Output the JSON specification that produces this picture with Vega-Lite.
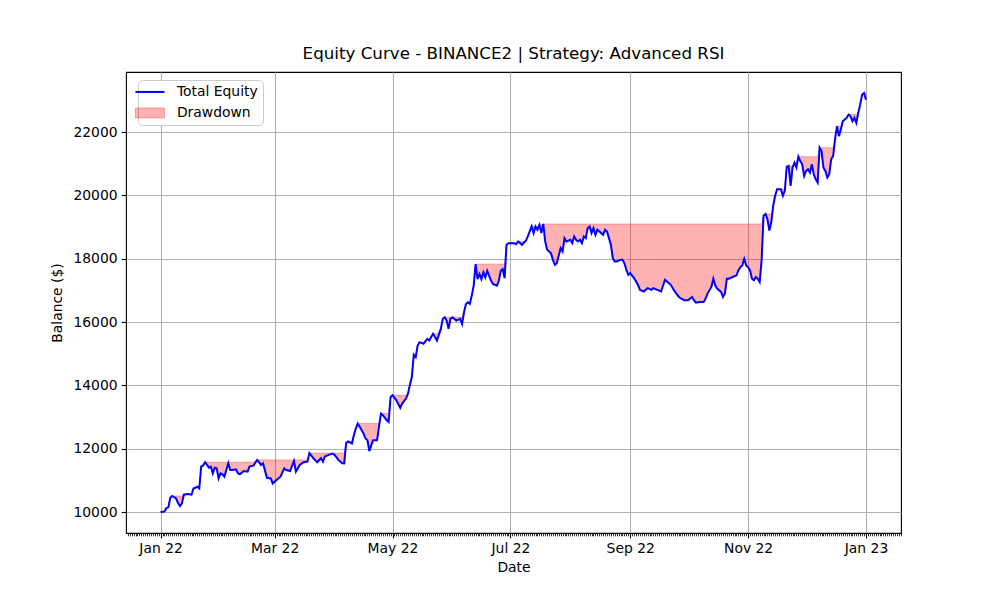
{
  "$schema": "https://vega.github.io/schema/vega-lite/v6.json",
  "width": 775,
  "height": 461,
  "autosize": {"type": "none"},
  "padding": {"left": 126, "top": 72, "right": 99, "bottom": 67},
  "background": "white",
  "title": {"text": "Equity Curve - BINANCE2 | Strategy: Advanced RSI", "font": "DejaVu Sans", "fontSize": 16.7, "fontWeight": "normal", "color": "#000000", "anchor": "middle", "offset": 9},
  "config": {
    "view": {"stroke": "#000000", "strokeWidth": 1.1},
    "axis": {"labelFont": "DejaVu Sans", "labelFontSize": 13.9, "labelColor": "#000000", "titleFont": "DejaVu Sans", "titleFontSize": 13.9, "titleFontWeight": "normal", "titleColor": "#000000", "domain": false, "tickColor": "#000000", "tickWidth": 1.1, "tickSize": 4.9, "gridColor": "#b0b0b0", "gridWidth": 1.1, "gridOpacity": 1, "labelPadding": 4},
    "legend": {"labelFont": "DejaVu Sans", "labelFontSize": 13.9, "labelColor": "#000000"}
  },
  "data": {"values": [
    {"d":"2022-01-01","e":10000,"p":10000},{"d":"2022-01-03","e":10020,"p":10020},{"d":"2022-01-04","e":10130,"p":10130},{"d":"2022-01-05","e":10150,"p":10150},{"d":"2022-01-06","e":10450,"p":10450},{"d":"2022-01-07","e":10510,"p":10510},{"d":"2022-01-09","e":10430,"p":10510},{"d":"2022-01-10","e":10290,"p":10510},{"d":"2022-01-11","e":10190,"p":10510},{"d":"2022-01-12","e":10270,"p":10510},{"d":"2022-01-13","e":10550,"p":10550},{"d":"2022-01-15","e":10575,"p":10575},{"d":"2022-01-17","e":10550,"p":10575},{"d":"2022-01-18","e":10745,"p":10745},{"d":"2022-01-20","e":10800,"p":10800},{"d":"2022-01-21","e":10745,"p":10800},{"d":"2022-01-22","e":11440,"p":11440},{"d":"2022-01-23","e":11470,"p":11470},{"d":"2022-01-24","e":11575,"p":11575},{"d":"2022-01-25","e":11490,"p":11575},{"d":"2022-01-26","e":11404,"p":11575},{"d":"2022-01-27","e":11436,"p":11575},{"d":"2022-01-28","e":11224,"p":11575},{"d":"2022-01-29","e":11404,"p":11575},{"d":"2022-01-30","e":11383,"p":11575},{"d":"2022-01-31","e":11064,"p":11575},
    {"d":"2022-02-01","e":11224,"p":11575},{"d":"2022-02-02","e":11192,"p":11575},{"d":"2022-02-03","e":11117,"p":11575},{"d":"2022-02-05","e":11543,"p":11575},{"d":"2022-02-06","e":11330,"p":11575},{"d":"2022-02-07","e":11330,"p":11575},{"d":"2022-02-09","e":11351,"p":11575},{"d":"2022-02-10","e":11224,"p":11575},{"d":"2022-02-11","e":11192,"p":11575},{"d":"2022-02-13","e":11298,"p":11575},{"d":"2022-02-15","e":11277,"p":11575},{"d":"2022-02-16","e":11436,"p":11575},{"d":"2022-02-18","e":11468,"p":11575},{"d":"2022-02-20","e":11649,"p":11649},{"d":"2022-02-22","e":11490,"p":11649},{"d":"2022-02-23","e":11543,"p":11649},{"d":"2022-02-25","e":11085,"p":11649},{"d":"2022-02-27","e":11064,"p":11649},{"d":"2022-02-28","e":10904,"p":11649},
    {"d":"2022-03-02","e":11011,"p":11649},{"d":"2022-03-04","e":11117,"p":11649},{"d":"2022-03-06","e":11383,"p":11649},{"d":"2022-03-07","e":11330,"p":11649},{"d":"2022-03-09","e":11298,"p":11649},{"d":"2022-03-11","e":11617,"p":11649},{"d":"2022-03-12","e":11277,"p":11649},{"d":"2022-03-14","e":11490,"p":11649},{"d":"2022-03-16","e":11575,"p":11649},{"d":"2022-03-18","e":11596,"p":11649},{"d":"2022-03-19","e":11862,"p":11862},{"d":"2022-03-21","e":11702,"p":11862},{"d":"2022-03-23","e":11575,"p":11862},{"d":"2022-03-25","e":11702,"p":11862},{"d":"2022-03-26","e":11596,"p":11862},{"d":"2022-03-27","e":11756,"p":11862},{"d":"2022-03-29","e":11809,"p":11862},{"d":"2022-03-31","e":11850,"p":11862},
    {"d":"2022-04-01","e":11809,"p":11862},{"d":"2022-04-03","e":11649,"p":11862},{"d":"2022-04-05","e":11543,"p":11862},{"d":"2022-04-06","e":11540,"p":11862},{"d":"2022-04-07","e":12181,"p":12181},{"d":"2022-04-08","e":12234,"p":12234},{"d":"2022-04-10","e":12168,"p":12234},{"d":"2022-04-11","e":12430,"p":12430},{"d":"2022-04-12","e":12640,"p":12640},{"d":"2022-04-13","e":12797,"p":12797},{"d":"2022-04-14","e":12692,"p":12797},{"d":"2022-04-16","e":12483,"p":12797},{"d":"2022-04-17","e":12325,"p":12797},{"d":"2022-04-18","e":12273,"p":12797},{"d":"2022-04-19","e":11927,"p":12797},{"d":"2022-04-20","e":12115,"p":12797},{"d":"2022-04-21","e":12273,"p":12797},{"d":"2022-04-23","e":12273,"p":12797},{"d":"2022-04-24","e":12692,"p":12797},{"d":"2022-04-25","e":13112,"p":13112},{"d":"2022-04-26","e":13060,"p":13112},{"d":"2022-04-28","e":12902,"p":13112},{"d":"2022-04-29","e":12850,"p":13112},{"d":"2022-04-30","e":13636,"p":13636},
    {"d":"2022-05-01","e":13689,"p":13689},{"d":"2022-05-03","e":13532,"p":13689},{"d":"2022-05-05","e":13290,"p":13689},{"d":"2022-05-06","e":13427,"p":13689},{"d":"2022-05-08","e":13585,"p":13689},{"d":"2022-05-09","e":13741,"p":13741},{"d":"2022-05-10","e":14025,"p":14025},{"d":"2022-05-11","e":14266,"p":14266},{"d":"2022-05-12","e":14969,"p":14969},{"d":"2022-05-13","e":14895,"p":14969},{"d":"2022-05-14","e":15262,"p":15262},{"d":"2022-05-15","e":15367,"p":15367},{"d":"2022-05-17","e":15315,"p":15367},{"d":"2022-05-19","e":15472,"p":15472},{"d":"2022-05-20","e":15420,"p":15472},{"d":"2022-05-22","e":15630,"p":15630},{"d":"2022-05-24","e":15420,"p":15630},{"d":"2022-05-26","e":15787,"p":15787},{"d":"2022-05-27","e":16102,"p":16102},{"d":"2022-05-28","e":16154,"p":16154},{"d":"2022-05-29","e":16050,"p":16154},{"d":"2022-05-30","e":15787,"p":16154},{"d":"2022-05-31","e":16102,"p":16154},
    {"d":"2022-06-01","e":16154,"p":16154},{"d":"2022-06-03","e":16050,"p":16154},{"d":"2022-06-05","e":16102,"p":16154},{"d":"2022-06-06","e":15944,"p":16154},{"d":"2022-06-07","e":16311,"p":16311},{"d":"2022-06-08","e":16574,"p":16574},{"d":"2022-06-09","e":16626,"p":16626},{"d":"2022-06-10","e":16574,"p":16626},{"d":"2022-06-11","e":16836,"p":16836},{"d":"2022-06-12","e":17151,"p":17151},{"d":"2022-06-13","e":17832,"p":17832},{"d":"2022-06-14","e":17360,"p":17832},{"d":"2022-06-15","e":17517,"p":17832},{"d":"2022-06-16","e":17360,"p":17832},{"d":"2022-06-17","e":17570,"p":17832},{"d":"2022-06-18","e":17412,"p":17832},{"d":"2022-06-19","e":17622,"p":17832},{"d":"2022-06-21","e":17307,"p":17832},{"d":"2022-06-22","e":17203,"p":17832},{"d":"2022-06-24","e":17151,"p":17832},{"d":"2022-06-25","e":17307,"p":17832},{"d":"2022-06-26","e":17622,"p":17832},{"d":"2022-06-27","e":17675,"p":17832},{"d":"2022-06-28","e":17389,"p":17832},{"d":"2022-06-29","e":18442,"p":18442},{"d":"2022-06-30","e":18495,"p":18495},
    {"d":"2022-07-03","e":18495,"p":18495},{"d":"2022-07-04","e":18463,"p":18495},{"d":"2022-07-05","e":18548,"p":18548},{"d":"2022-07-07","e":18442,"p":18548},{"d":"2022-07-09","e":18569,"p":18569},{"d":"2022-07-10","e":18706,"p":18706},{"d":"2022-07-12","e":19021,"p":19021},{"d":"2022-07-13","e":18811,"p":19021},{"d":"2022-07-14","e":19021,"p":19021},{"d":"2022-07-15","e":18916,"p":19021},{"d":"2022-07-16","e":19074,"p":19074},{"d":"2022-07-17","e":18811,"p":19074},{"d":"2022-07-18","e":19100,"p":19100},{"d":"2022-07-19","e":18548,"p":19100},{"d":"2022-07-20","e":18284,"p":19100},{"d":"2022-07-22","e":18179,"p":19100},{"d":"2022-07-23","e":17968,"p":19100},{"d":"2022-07-24","e":17810,"p":19100},{"d":"2022-07-25","e":17863,"p":19100},{"d":"2022-07-27","e":18337,"p":19100},{"d":"2022-07-28","e":18232,"p":19100},{"d":"2022-07-29","e":18653,"p":19100},{"d":"2022-07-30","e":18548,"p":19100},
    {"d":"2022-08-01","e":18600,"p":19100},{"d":"2022-08-02","e":18495,"p":19100},{"d":"2022-08-03","e":18706,"p":19100},{"d":"2022-08-04","e":18600,"p":19100},{"d":"2022-08-05","e":18548,"p":19100},{"d":"2022-08-06","e":18600,"p":19100},{"d":"2022-08-07","e":18495,"p":19100},{"d":"2022-08-08","e":18706,"p":19100},{"d":"2022-08-09","e":18653,"p":19100},{"d":"2022-08-10","e":18969,"p":19100},{"d":"2022-08-11","e":19021,"p":19100},{"d":"2022-08-12","e":18811,"p":19100},{"d":"2022-08-13","e":18969,"p":19100},{"d":"2022-08-14","e":18758,"p":19100},{"d":"2022-08-15","e":18916,"p":19100},{"d":"2022-08-17","e":18811,"p":19100},{"d":"2022-08-18","e":18758,"p":19100},{"d":"2022-08-19","e":18916,"p":19100},{"d":"2022-08-20","e":18863,"p":19100},{"d":"2022-08-21","e":18653,"p":19100},{"d":"2022-08-22","e":18442,"p":19100},{"d":"2022-08-23","e":18021,"p":19100},{"d":"2022-08-24","e":17916,"p":19100},{"d":"2022-08-25","e":17916,"p":19100},{"d":"2022-08-27","e":17968,"p":19100},{"d":"2022-08-28","e":17968,"p":19100},{"d":"2022-08-29","e":17863,"p":19100},{"d":"2022-08-30","e":17653,"p":19100},{"d":"2022-08-31","e":17495,"p":19100},
    {"d":"2022-09-01","e":17547,"p":19100},{"d":"2022-09-03","e":17389,"p":19100},{"d":"2022-09-05","e":17179,"p":19100},{"d":"2022-09-06","e":17021,"p":19100},{"d":"2022-09-08","e":16968,"p":19100},{"d":"2022-09-10","e":17073,"p":19100},{"d":"2022-09-12","e":17021,"p":19100},{"d":"2022-09-13","e":17073,"p":19100},{"d":"2022-09-15","e":17021,"p":19100},{"d":"2022-09-17","e":16968,"p":19100},{"d":"2022-09-19","e":17337,"p":19100},{"d":"2022-09-20","e":17284,"p":19100},{"d":"2022-09-22","e":17179,"p":19100},{"d":"2022-09-24","e":16968,"p":19100},{"d":"2022-09-26","e":16810,"p":19100},{"d":"2022-09-27","e":16757,"p":19100},{"d":"2022-09-29","e":16692,"p":19100},
    {"d":"2022-10-01","e":16692,"p":19100},{"d":"2022-10-02","e":16744,"p":19100},{"d":"2022-10-03","e":16796,"p":19100},{"d":"2022-10-04","e":16692,"p":19100},{"d":"2022-10-05","e":16618,"p":19100},{"d":"2022-10-07","e":16639,"p":19100},{"d":"2022-10-09","e":16639,"p":19100},{"d":"2022-10-10","e":16744,"p":19100},{"d":"2022-10-11","e":16901,"p":19100},{"d":"2022-10-13","e":17110,"p":19100},{"d":"2022-10-14","e":17372,"p":19100},{"d":"2022-10-15","e":17163,"p":19100},{"d":"2022-10-16","e":17058,"p":19100},{"d":"2022-10-18","e":16953,"p":19100},{"d":"2022-10-19","e":16796,"p":19100},{"d":"2022-10-20","e":16901,"p":19100},{"d":"2022-10-21","e":17372,"p":19100},{"d":"2022-10-22","e":17372,"p":19100},{"d":"2022-10-24","e":17425,"p":19100},{"d":"2022-10-26","e":17477,"p":19100},{"d":"2022-10-27","e":17634,"p":19100},{"d":"2022-10-28","e":17739,"p":19100},{"d":"2022-10-29","e":17791,"p":19100},{"d":"2022-10-30","e":18000,"p":19100},{"d":"2022-10-31","e":17791,"p":19100},
    {"d":"2022-11-01","e":17739,"p":19100},{"d":"2022-11-02","e":17634,"p":19100},{"d":"2022-11-03","e":17372,"p":19100},{"d":"2022-11-04","e":17320,"p":19100},{"d":"2022-11-05","e":17425,"p":19100},{"d":"2022-11-06","e":17372,"p":19100},{"d":"2022-11-07","e":17267,"p":19100},{"d":"2022-11-08","e":17948,"p":19100},{"d":"2022-11-09","e":19362,"p":19362},{"d":"2022-11-10","e":19414,"p":19414},{"d":"2022-11-11","e":19257,"p":19414},{"d":"2022-11-12","e":18890,"p":19414},{"d":"2022-11-13","e":19152,"p":19414},{"d":"2022-11-14","e":19676,"p":19676},{"d":"2022-11-15","e":19990,"p":19990},{"d":"2022-11-16","e":20199,"p":20199},{"d":"2022-11-18","e":20199,"p":20199},{"d":"2022-11-19","e":19990,"p":20199},{"d":"2022-11-20","e":20147,"p":20199},{"d":"2022-11-21","e":20911,"p":20911},{"d":"2022-11-22","e":20932,"p":20932},{"d":"2022-11-23","e":20304,"p":20932},{"d":"2022-11-24","e":20880,"p":20932},{"d":"2022-11-25","e":21037,"p":21037},{"d":"2022-11-26","e":20880,"p":21037},{"d":"2022-11-27","e":21225,"p":21225},{"d":"2022-11-28","e":21089,"p":21225},{"d":"2022-11-29","e":20984,"p":21225},{"d":"2022-11-30","e":20618,"p":21225},
    {"d":"2022-12-01","e":20775,"p":21225},{"d":"2022-12-02","e":20827,"p":21225},{"d":"2022-12-03","e":20723,"p":21225},{"d":"2022-12-04","e":20984,"p":21225},{"d":"2022-12-05","e":20670,"p":21225},{"d":"2022-12-06","e":20513,"p":21225},{"d":"2022-12-07","e":20409,"p":21225},{"d":"2022-12-08","e":21508,"p":21508},{"d":"2022-12-09","e":21403,"p":21508},{"d":"2022-12-10","e":20880,"p":21508},{"d":"2022-12-11","e":20775,"p":21508},{"d":"2022-12-12","e":20566,"p":21508},{"d":"2022-12-13","e":20670,"p":21508},{"d":"2022-12-14","e":21141,"p":21508},{"d":"2022-12-15","e":21246,"p":21508},{"d":"2022-12-16","e":21770,"p":21770},{"d":"2022-12-17","e":22188,"p":22188},{"d":"2022-12-18","e":21874,"p":22188},{"d":"2022-12-19","e":22084,"p":22188},{"d":"2022-12-20","e":22345,"p":22345},{"d":"2022-12-21","e":22398,"p":22398},{"d":"2022-12-22","e":22450,"p":22450},{"d":"2022-12-23","e":22555,"p":22555},{"d":"2022-12-24","e":22503,"p":22555},{"d":"2022-12-25","e":22345,"p":22555},{"d":"2022-12-26","e":22450,"p":22555},{"d":"2022-12-27","e":22293,"p":22555},{"d":"2022-12-28","e":22607,"p":22607},{"d":"2022-12-29","e":22869,"p":22869},{"d":"2022-12-30","e":23183,"p":23183},{"d":"2022-12-31","e":23235,"p":23235},{"d":"2023-01-01","e":23026,"p":23235}
  ]},
  "layer": [
    {
      "mark": {"type": "area", "fillOpacity": 0.3, "stroke": "#ff0000", "strokeOpacity": 0.3, "strokeWidth": 1},
      "encoding": {
        "x": {"field": "d", "type": "temporal", "title": "Date",
          "scale": {"type": "utc", "domain": [{"year": 2021, "month": 12, "date": 14, "hours": 2, "utc": true}, {"year": 2023, "month": 1, "date": 19, "hours": 3, "utc": true}]},
          "axis": {"format": "%b %y", "grid": true, "titlePadding": 5,
            "values": [{"year": 2022, "month": 1, "date": 1, "utc": true}, {"year": 2022, "month": 3, "date": 1, "utc": true}, {"year": 2022, "month": 5, "date": 1, "utc": true}, {"year": 2022, "month": 7, "date": 1, "utc": true}, {"year": 2022, "month": 9, "date": 1, "utc": true}, {"year": 2022, "month": 11, "date": 1, "utc": true}, {"year": 2023, "month": 1, "date": 1, "utc": true}]}},
        "y": {"field": "e", "type": "quantitative", "title": "Balance ($)",
          "scale": {"domain": [9340, 23900], "nice": false, "zero": false},
          "axis": {"values": [10000, 12000, 14000, 16000, 18000, 20000, 22000], "format": "d", "grid": true, "titlePadding": 8}},
        "y2": {"field": "p"},
        "color": {"datum": "Drawdown", "type": "nominal",
          "scale": {"domain": ["Total Equity", "Drawdown"], "range": ["#0000ff", "#ff0000"]},
          "legend": {"title": null, "orient": "none", "legendX": 12, "legendY": 8, "padding": 5, "fillColor": "#ffffff", "strokeColor": "#cccccc", "cornerRadius": 4, "symbolSize": 100, "labelOffset": 20, "rowPadding": 6,
            "encode": {"symbols": {"update": {
              "shape": {"signal": "datum.value === 'Total Equity' ? 'M-2.9,0H2.9' : 'M-2.9,-1H2.9V1H-2.9Z'"},
              "fill": {"signal": "datum.value === 'Total Equity' ? 'transparent' : '#ff0000'"},
              "fillOpacity": {"signal": "datum.value === 'Total Equity' ? 0 : 0.3"},
              "stroke": {"signal": "datum.value === 'Total Equity' ? '#0000ff' : '#ff0000'"},
              "strokeOpacity": {"signal": "datum.value === 'Total Equity' ? 1 : 0.3"},
              "strokeWidth": {"signal": "datum.value === 'Total Equity' ? 2 : 1"},
              "opacity": {"value": 1}
            }}}}}
      }
    },
    {
      "mark": {"type": "line", "strokeWidth": 2},
      "encoding": {
        "x": {"field": "d", "type": "temporal",
          "axis": {"orient": "bottom", "labels": false, "grid": false, "title": null, "tickSize": 2.8, "tickWidth": 0.8, "tickCount": {"interval": "day", "step": 1}}},
        "y": {"field": "e", "type": "quantitative"},
        "color": {"datum": "Total Equity", "type": "nominal",
          "legend": {"title": null, "orient": "none", "legendX": 12, "legendY": 8, "padding": 5, "fillColor": "#ffffff", "strokeColor": "#cccccc", "cornerRadius": 4, "symbolSize": 100, "labelOffset": 20, "rowPadding": 6,
            "encode": {"symbols": {"update": {
              "shape": {"signal": "datum.value === 'Total Equity' ? 'M-2.9,0H2.9' : 'M-2.9,-1H2.9V1H-2.9Z'"},
              "fill": {"signal": "datum.value === 'Total Equity' ? 'transparent' : '#ff0000'"},
              "fillOpacity": {"signal": "datum.value === 'Total Equity' ? 0 : 0.3"},
              "stroke": {"signal": "datum.value === 'Total Equity' ? '#0000ff' : '#ff0000'"},
              "strokeOpacity": {"signal": "datum.value === 'Total Equity' ? 1 : 0.3"},
              "strokeWidth": {"signal": "datum.value === 'Total Equity' ? 2 : 1"},
              "opacity": {"value": 1}
            }}}}}
      }
    }
  ],
  "resolve": {"axis": {"x": "independent"}}
}
